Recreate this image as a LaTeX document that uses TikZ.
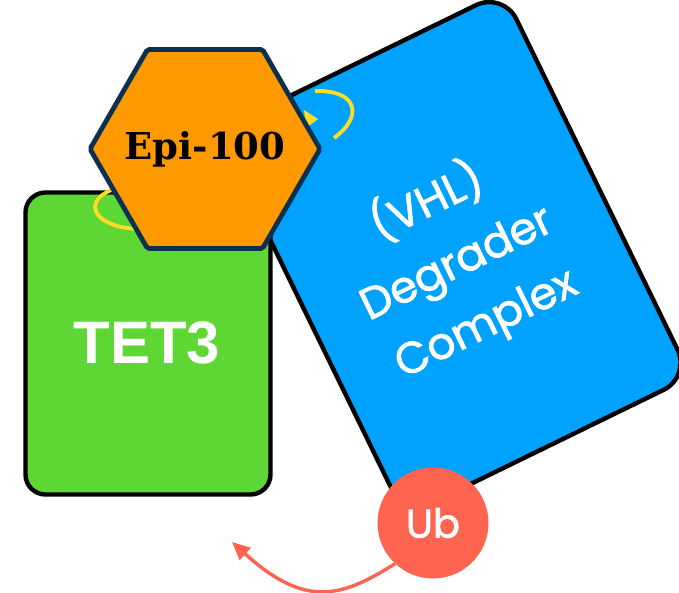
\documentclass[tikz,border=0pt]{standalone}
\usepackage{fontspec}
\usetikzlibrary{shapes.geometric,arrows.meta}
\newfontfamily\popfont{Poppins}[FakeBold=1.6]
\newfontfamily\lsansfont{Liberation Sans}
\newfontfamily\dserfont{DejaVu Serif}
\definecolor{cblue}{RGB}{0,162,255}
\definecolor{cgreen}{RGB}{94,214,52}
\definecolor{corange}{RGB}{255,153,0}
\definecolor{cnavy}{RGB}{12,48,80}
\definecolor{cred}{RGB}{255,100,80}
\definecolor{cyellow}{RGB}{255,220,40}
\tikzset{
  protbox/.style={draw=black, line width=4.4pt, inner sep=0pt},
  ring/.style={draw=cyellow, line width=3.8pt},
}
\begin{document}
\begin{tikzpicture}[x=1pt,y=1pt]
\clip (0,0) rectangle (679,-593);
\useasboundingbox (0,0) rectangle (679,-593);
% blue complex
\node[protbox, fill=cblue, rounded corners=30pt, minimum width=318pt, minimum height=428pt, rotate=26] (vhl) at (454,-254) {};
\node[text=white, rotate=26, align=center, font=\popfont\fontsize{44}{67}\selectfont] (vhltext) at (456,-262) {(VHL)\\Degrader\\Complex};
% yellow arc on blue
\draw[ring] (315,-91) .. controls (360,-90) and (362,-118) .. (334,-138);
\fill[cyellow] (304,-110) -- (318,-119) -- (306,-128) -- cycle;
% green TET3
\node[protbox, fill=cgreen, rounded corners=20pt, minimum width=245pt, minimum height=302pt] (tet) at (148,-343.5) {};
\node[text=white, font=\lsansfont\bfseries\fontsize{60}{70}\selectfont] (tettext) at (147,-343) {TET3};
% yellow ring on green
\draw[ring] (140,-207) ellipse [x radius=45, y radius=22];
% hexagon
\node[regular polygon, regular polygon sides=6, minimum size=230pt, fill=corange, draw=cnavy, line width=4.8pt, rounded corners=2pt, inner sep=0pt] (epi) at (205,-149) {};
\node[font=\dserfont\bfseries\fontsize{37}{40}\selectfont] (epitext) at (epi.center) {Epi-100};
% Ub
\node[circle, fill=cred, minimum size=111pt, inner sep=0pt, text=white, font=\popfont\fontsize{40}{44}\selectfont] (ub) at (433,-523) {Ub};
\coordinate (tip) at (232,-542);
\draw[cred, line width=3.4pt, -{Triangle[length=18pt,width=16pt]}] (ub.-133) .. controls (342,-597) and (306,-609) .. (tip);
\end{tikzpicture}
\end{document}
